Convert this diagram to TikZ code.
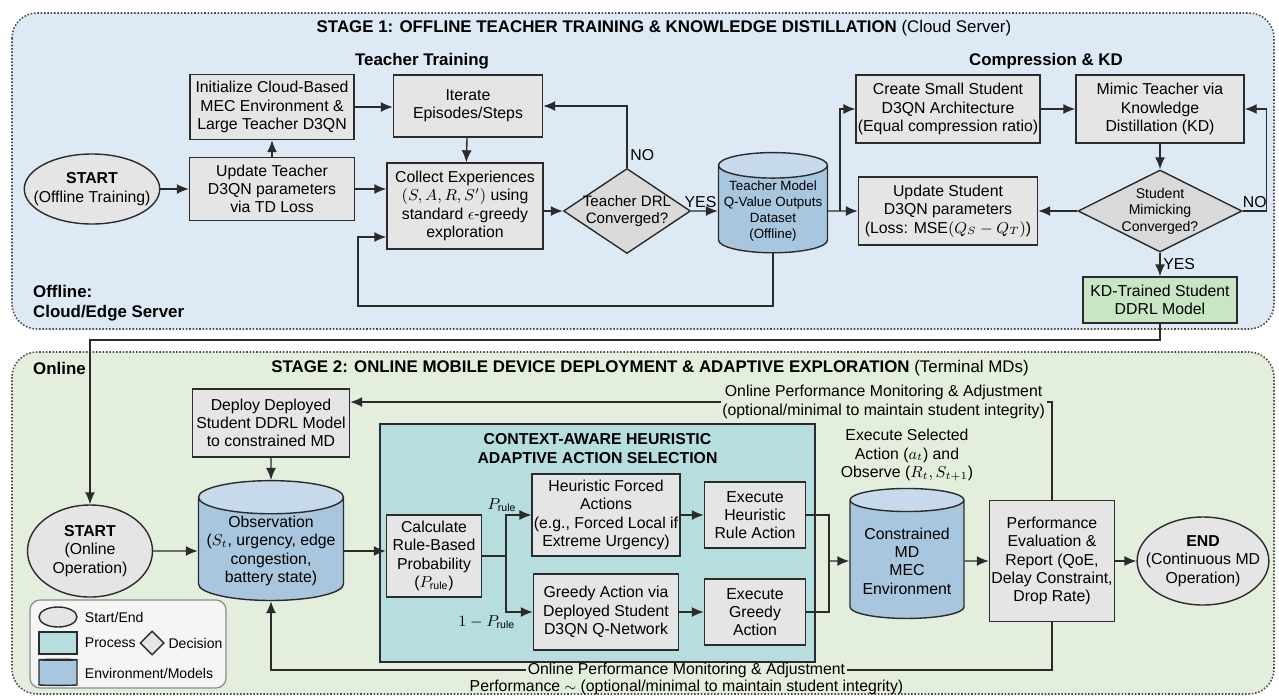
\documentclass[tikz,border=0pt]{standalone}
\usepackage{fontspec}
\setmainfont{Liberation Sans}
\usepackage{amsmath}
\usetikzlibrary{arrows.meta,positioning,shapes.geometric}

\definecolor{stageblue}{HTML}{DDE9F5}
\definecolor{stagegreen}{HTML}{E3EFDC}
\definecolor{boxgray}{HTML}{E5E5E5}
\definecolor{cylbody}{HTML}{A9C6DF}
\definecolor{cyltop}{HTML}{C6DAEB}
\definecolor{ctxteal}{HTML}{B7DEDF}
\definecolor{kdgreen}{HTML}{C9E6C4}
\definecolor{inkgray}{HTML}{2B2B2B}
\newcommand{\boxfont}{\fontsize{9}{10.4}\selectfont}
\newcommand{\smallboxfont}{\fontsize{8}{9.4}\selectfont}
\newcommand{\headfont}{\fontsize{9.6}{11.5}\selectfont\bfseries}
\newcommand{\Prule}{P_{\mathrm{rule}}}

\begin{document}
\begin{tikzpicture}[x=0.2mm,y=-0.2mm,
  box/.style 2 args={minimum width=#1*0.2mm,minimum height=#2*0.2mm},
  proc/.style={rectangle,draw=inkgray,fill=boxgray,line width=0.8pt,
    align=center,font=\boxfont,inner sep=1pt},
  decide/.style={diamond,draw=inkgray,fill=boxgray!95!black,line width=0.8pt,
    align=center,font=\smallboxfont,inner sep=-1.5pt,aspect=1.5},
  store/.style={cylinder,shape border rotate=90,aspect=0.25,draw=inkgray,
    line width=0.8pt,cylinder uses custom fill,cylinder body fill=cylbody,
    cylinder end fill=cyltop,align=center,font=\boxfont,inner sep=1pt},
  term/.style={ellipse,draw=inkgray,fill=boxgray,line width=0.8pt,
    align=center,font=\boxfont,inner xsep=-6pt,inner ysep=-1pt},
  stagebox/.style={draw=black!70,densely dotted,line width=0.9pt,
    rounded corners=5mm},
  head/.style={font=\headfont,align=center},
  lbl/.style={font=\boxfont,inner sep=1.5pt},
  note/.style={font=\boxfont,align=center,inner sep=1pt},
  fbnote/.style={note,fill=stagegreen},
  legtext/.style={font=\smallboxfont,inner sep=0.5pt},
  flow/.style={line width=0.8pt,draw=inkgray},
  arr/.style={flow,-{Latex[length=2.4mm,width=2mm]}}
]
\useasboundingbox (0,0) rectangle (1279,699);

% stage backgrounds
\draw[stagebox,fill=stageblue] (12,13) rectangle (1274,329);
\draw[stagebox,fill=stagegreen] (12,352) rectangle (1274,694);

% ---- stage 1 ----
\node[head] (stage1) at (664,28) {STAGE 1: OFFLINE TEACHER TRAINING \& KNOWLEDGE DISTILLATION {\mdseries (Cloud Server)}};
\node[head] (ttrain) at (422,61) {Teacher Training};
\node[head] (ckd) at (1046,61) {Compression \& KD};
\node[head,anchor=west,align=left] (offl) at (27,303) {Offline:\\Cloud/Edge Server};

\node[term,box={135}{70}] (start1) at (92,189) {\textbf{START}\\(Offline Training)};
\node[proc,box={165}{63}] (updT) at (272,189) {Update Teacher\\D3QN parameters\\via TD Loss};
\node[proc,box={164}{65}] (init) at (272,107) {Initialize Cloud-Based\\MEC Environment \&\\Large Teacher D3QN};
\node[proc,box={149}{62}] (iter) at (468,106) {Iterate\\Episodes/Steps};
\node[proc,box={156}{86}] (collect) at (465,206) {Collect Experiences\\$(S,A,R,S')$ using\\standard $\epsilon$-greedy\\exploration};
\node[decide,box={127}{85},font=\fontsize{8.6}{10}\selectfont] (conv1) at (627,211) {Teacher DRL\\Converged?};
\node[store,box={109}{93},font=\fontsize{7.6}{9.2}\selectfont] (qdata) at (773,211) {Teacher Model\\Q-Value Outputs\\Dataset\\(Offline)};
\node[proc,box={178}{68}] (create) at (948,109) {Create Small Student\\D3QN Architecture\\(Equal compression ratio)};
\node[proc,box={168}{68}] (mimic) at (1160,109) {Mimic Teacher via\\Knowledge\\Distillation (KD)};
\node[proc,box={179}{68}] (updS) at (948,211) {Update Student\\D3QN parameters\\(Loss: MSE$(Q_S-Q_T)$)};
\node[decide,box={164}{82},aspect=2] (conv2) at (1160,211) {Student\\Mimicking\\Converged?};
\node[proc,box={154}{46},fill=kdgreen] (kdstu) at (1160,300) {KD-Trained Student\\DDRL Model};

\coordinate (looptail) at (358,306);
\coordinate (kdsplit) at (840,211);

\draw[arr] (start1) -- (updT);
\draw[arr] (updT) -- (init);
\draw[arr] (init) -- (init -| iter.west);
\draw[arr] (iter) -- (collect);
\draw[arr] (updT.east) -- (updT.east -| collect.west);
\draw[arr] (collect.east |- conv1) -- (conv1);
\draw[arr] (conv1.north) |- node[lbl,pos=0.1,right] {NO} (iter.east);
\draw[arr] (conv1) -- node[lbl,above,xshift=-0.8mm] {YES} (qdata);
\draw[arr] (qdata.south) |- (looptail) |- ([yshift=-6.2mm]collect.west);
\draw[arr] (qdata) -- (updS);
\draw[arr] (kdsplit) |- (create.west);
\draw[arr] (create) -- (mimic);
\draw[arr] (mimic) -- (conv2);
\draw[arr] (conv2) -- (updS);
\draw[arr] (conv2.east) -- node[lbl,above] {NO} ++(24,0) |- (mimic.east);
\draw[arr] (conv2) -- node[lbl,right] {YES} (kdstu);

% ---- stage 2 ----
\node[head] (stage2) at (650,368) {STAGE 2: ONLINE MOBILE DEVICE DEPLOYMENT \& ADAPTIVE EXPLORATION {\mdseries (Terminal MDs)}};
\node[head,anchor=west] (onl) at (27,368) {Online};

\node[term,box={125}{92}] (start2) at (90,551) {\textbf{START}\\(Online\\Operation)};
\node[proc,box={157}{68}] (deploy) at (271,423) {Deploy Deployed\\Student DDRL Model\\to constrained MD};
\node[store,box={145}{106}] (obs) at (271,551) {Observation\\($S_t$, urgency, edge\\congestion,\\battery state)};
\node[rectangle,draw=inkgray,fill=ctxteal,line width=0.8pt,box={435}{238}] (ctx) at (597.5,543) {};
\node[head,font=\fontsize{9}{11}\selectfont\bfseries,below=0.8mm of ctx.north] (ctxtitle) {CONTEXT-AWARE HEURISTIC\\ADAPTIVE ACTION SELECTION};
\node[proc,box={95}{82}] (calc) at (434,556) {Calculate\\Rule-Based\\Probability\\($\Prule$)};
\node[proc,box={145}{82}] (heur) at (606,515) {Heuristic Forced\\Actions\\(e.g., Forced Local if\\Extreme Urgency)};
\node[proc,box={101}{66}] (execH) at (755,515) {Execute\\Heuristic\\Rule Action};
\node[proc,box={145}{76}] (greedy) at (606,612) {Greedy Action via\\Deployed Student\\D3QN Q-Network};
\node[proc,box={101}{66}] (execG) at (755,612) {Execute\\Greedy\\Action};
\node[store,box={114}{130}] (envmd) at (907,561) {Constrained\\MD\\MEC\\Environment};
\node[note,above=1mm of envmd] (envnote) {Execute Selected\\Action ($a_t$) and\\Observe ($R_t,S_{t+1}$)};
\node[proc,box={125}{121}] (perf) at (1052,561) {Performance\\Evaluation \&\\Report (QoE,\\Delay Constraint,\\Drop Rate)};
\node[term,box={127}{88}] (endn) at (1203,561) {\textbf{END}\\(Continuous MD\\Operation)};

% legend
\node[draw=black!45,fill=black!4,rounded corners=2mm,line width=0.7pt,box={196}{88}] (legend) at (128,644) {};
\node[term,box={38}{20}] (lgterm) at (58,617) {};
\node[legtext,right=1.2mm of lgterm] (lgtermtxt) {Start/End};
\node[rectangle,draw=inkgray,fill=ctxteal,line width=0.8pt,box={38}{22}] (lgproc) at (58,643) {};
\node[legtext,right=1.2mm of lgproc] (lgproctxt) {Process};
\node[diamond,draw=inkgray,fill=boxgray,line width=0.8pt,box={24}{24},inner sep=0pt,right=0.5mm of lgproctxt] (lgdec) {};
\node[legtext,right=0.5mm of lgdec] (lgdectxt) {Decision};
\node[store,box={38}{26}] (lgstore) at (58,673) {};
\node[legtext,right=1.2mm of lgstore] (lgstoretxt) {Environment/Models};

\coordinate (handoff) at (90,340);
\coordinate (psplit) at (506,556);
\coordinate (merge) at (829,561);
\coordinate (fbturn) at (1052,670);

\draw[arr] (kdstu.south) |- (handoff) -- (start2.north);
\draw[arr] (start2) -- (obs);
\draw[arr] (deploy) -- (obs);
\draw[arr] (obs.east) -- (obs.east -| calc.west);
\draw[flow] (calc.east) -- (psplit);
\draw[arr] (psplit) |- node[lbl,pos=0.5,above,xshift=-0.8mm] {$\Prule$} (heur.west);
\draw[arr] (psplit) |- node[lbl,pos=0.5,below left,xshift=2.5mm] {$1-\Prule$} (greedy.west);
\draw[arr] (heur) -- (execH);
\draw[arr] (greedy) -- (execG);
\draw[flow] (execH.east) -| (merge);
\draw[flow] (execG.east) -| (merge);
\draw[arr] (merge) -- (envmd.west);
\draw[arr] (envmd.east) -- (perf.west);
\draw[arr] (perf) -- (endn);
\draw[arr] (perf.north) |- node[pos=0.62,fbnote] (fbtop) {Online Performance Monitoring \& Adjustment\\(optional/minimal to maintain student integrity)} ([yshift=4.2mm]deploy.east);
\draw[arr] (perf.south) -- (fbturn) -| node[pos=0.234,fbnote,inner ysep=0pt] (fblow) {Online Performance Monitoring \& Adjustment} (obs.south);
\node[note,inner ysep=0pt,below=0.3mm of fblow] (fblow2) {Performance {\footnotesize$\sim$} (optional/minimal to maintain student integrity)};
\end{tikzpicture}
\end{document}
